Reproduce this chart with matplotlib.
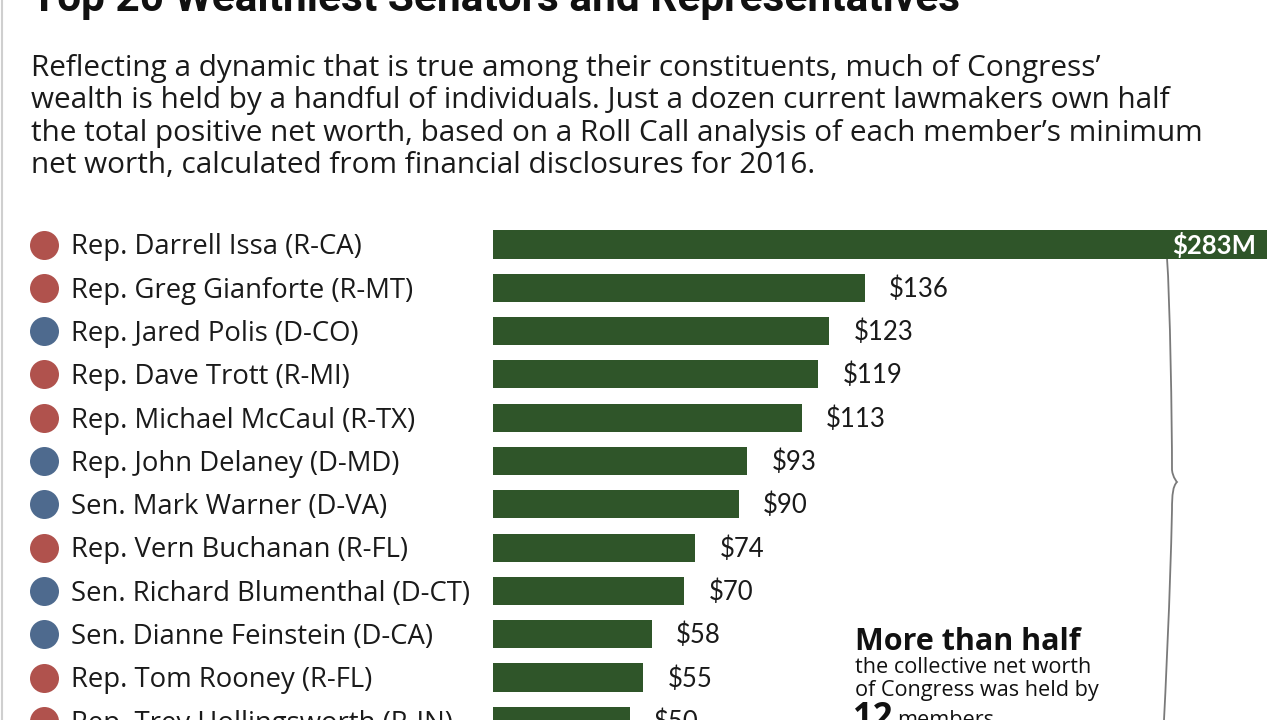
import matplotlib
matplotlib.use("Agg")
import matplotlib.pyplot as plt
from matplotlib.path import Path
from matplotlib.patches import PathPatch
from matplotlib.transforms import blended_transform_factory, offset_copy

# ---------------- data ----------------
names = [
    "Rep. Darrell Issa (R-CA)",
    "Rep. Greg Gianforte (R-MT)",
    "Rep. Jared Polis (D-CO)",
    "Rep. Dave Trott (R-MI)",
    "Rep. Michael McCaul (R-TX)",
    "Rep. John Delaney (D-MD)",
    "Sen. Mark Warner (D-VA)",
    "Rep. Vern Buchanan (R-FL)",
    "Sen. Richard Blumenthal (D-CT)",
    "Sen. Dianne Feinstein (D-CA)",
    "Rep. Tom Rooney (R-FL)",
    "Rep. Trey Hollingsworth (R-IN)",
]
parties = ["R", "R", "D", "R", "R", "D", "D", "R", "D", "D", "R", "R"]
net_worth = [283, 136, 123, 119, 113, 93, 90, 74, 70, 58, 55, 50]
value_labels = ["$283M", "$136", "$123", "$119", "$113", "$93", "$90",
                "$74", "$70", "$58", "$55", "$50"]

title = "Top 20 Wealthiest Senators and Representatives"
subtitle_lines = [
    "Reflecting a dynamic that is true among their constituents, much of Congress\u2019",
    "wealth is held by a handful of individuals. Just a dozen current lawmakers own half",
    "the total positive net worth, based on a Roll Call analysis of each member\u2019s minimum",
    "net worth, calculated from financial disclosures for 2016.",
]

# ---------------- style ----------------
GREEN = "#2F5529"
RED = "#B0524D"
BLUE = "#4E6A8E"
TXT = "#1a1a1a"
party_color = {"R": RED, "D": BLUE}
FONT = ["Open Sans", "DejaVu Sans"]
VFONT = ["Lato", "DejaVu Sans"]

W, H = 1280, 720
fig = plt.figure(figsize=(W / 100, H / 100), dpi=100)
fig.patch.set_facecolor("white")

# overlay in pixel coordinates for decoration text
ov = fig.add_axes([0, 0, 1, 1], zorder=0)
ov.set_xlim(0, W)
ov.set_ylim(H, 0)
ov.axis("off")

# left page border
ov.plot([1.5, 1.5], [0, H], color="#cfcfcf", lw=1.5)

# title (cut at top)
ov.text(31, 11, title, fontsize=30.5, fontweight="bold", color="#111111",
        family=["Roboto", "DejaVu Sans"], va="baseline", ha="left")

# subtitle
for i, line in enumerate(subtitle_lines):
    ov.text(31, 76 + 32.3 * i, line, fontsize=21.4, color=TXT,
            family=FONT, va="baseline", ha="left")

# ---------------- bars ----------------
row_px0, row_gap = 244.5, 43.3
n = len(names)
top_px = row_px0 - 0.5 * row_gap
bot_px = row_px0 + (n - 0.5) * row_gap
x0_px, x1_px = 493.0, 1267.0
ax = fig.add_axes([x0_px / W, (H - bot_px) / H, (x1_px - x0_px) / W, (bot_px - top_px) / H],
                  zorder=2)
ax.patch.set_alpha(0)
ypos = list(range(n))
ax.barh(ypos, net_worth, height=0.65, color=GREEN, edgecolor="none")
ax.set_xlim(0, max(net_worth))
ax.set_ylim(n - 0.5, -0.5)
ax.axis("off")

trans_lbl = blended_transform_factory(ov.transData, ax.transData)
trans_lbl_text = offset_copy(trans_lbl, fig=fig, x=0, y=-9.8, units="dots")
trans_val = offset_copy(ax.transData, fig=fig, x=24, y=-9.0, units="dots")
trans_val_in = offset_copy(ax.transData, fig=fig, x=-11, y=-9.0, units="dots")

for i, (nm, p) in enumerate(zip(names, parties)):
    ax.scatter([43.5], [i], s=(29 * 0.72) ** 2, color=party_color[p],
               transform=trans_lbl, clip_on=False, zorder=3, linewidths=0)
    ax.text(71, i, nm, transform=trans_lbl_text, fontsize=19.8, color=TXT,
            family=FONT, va="baseline", ha="left", clip_on=False)

for i, (v, lab) in enumerate(zip(net_worth, value_labels)):
    if i == 0:
        ax.text(v, i, lab, transform=trans_val_in, ha="right", va="baseline",
                color="white", fontsize=18.5, fontweight="bold", family=VFONT,
                clip_on=False)
    else:
        ax.text(v, i, lab, transform=trans_val, ha="left", va="baseline",
                color=TXT, fontsize=18.5, family=VFONT, clip_on=False)

# ---------------- brace ----------------
verts = [(1167, 258), (1170, 300), (1172, 420), (1172, 470),
         (1173, 478), (1177, 482), (1177, 482),
         (1173, 486), (1172, 494), (1172, 510),
         (1170, 600), (1166, 680), (1163, 740)]
codes = [Path.MOVETO, Path.CURVE4, Path.CURVE4, Path.CURVE4,
         Path.CURVE4, Path.CURVE4, Path.CURVE4,
         Path.CURVE4, Path.CURVE4, Path.CURVE4,
         Path.CURVE4, Path.CURVE4, Path.CURVE4]
ov.add_patch(PathPatch(Path(verts, codes), facecolor="none",
                       edgecolor="#7a7a7a", lw=1.3, zorder=3))

# ---------------- annotation ----------------
ov.text(855, 650, "More than half", fontsize=22, fontweight="bold",
        color="#111111", family=FONT, va="baseline", ha="left")
ov.text(855, 673, "the collective net worth", fontsize=15.6, color="#111111",
        family=FONT, va="baseline", ha="left")
ov.text(855, 696, "of Congress was held by", fontsize=15.6, color="#111111",
        family=FONT, va="baseline", ha="left")
ov.text(853, 728, "12", fontsize=25, fontweight="bold", color="#111111",
        family=FONT, va="baseline", ha="left")
ov.text(897, 726, "members", fontsize=15.6, color="#111111",
        family=FONT, va="baseline", ha="left")

fig.savefig("out.png", dpi=100, facecolor="white")
